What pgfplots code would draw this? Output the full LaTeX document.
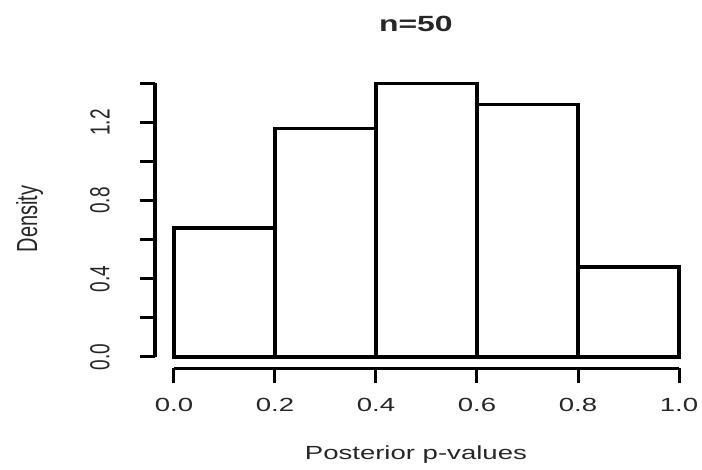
\documentclass[border=0pt]{standalone}
\usepackage{graphicx}
\usepackage{fontspec}
\setmainfont{Liberation Sans}
\usepackage{pgfplots}
\pgfplotsset{compat=1.18}

% wide glyphs for horizontal text, tall glyphs for text turned by 90 degrees
\newcommand\wide[1]{\scalebox{1.45}[1]{#1}}
\newcommand\tall[1]{\scalebox{1}[1.45]{#1}}

\begin{document}
\begin{tikzpicture}
\useasboundingbox (-174pt,-113pt) rectangle (528pt,357pt);
\begin{axis}[
  at={(0pt,0pt)}, anchor=south west,
  scale only axis, width=505pt, height=273.7pt,
  xmin=0, xmax=1, ymin=0, ymax=1.4,
  clip=false,
  axis x line*=bottom, axis y line*=left,
  axis x line shift=11.3pt, axis y line shift=19pt,
  axis line style={-, line width=3.2pt, black},
  tick align=outside,
  major tick length=15pt, minor tick length=15pt,
  every tick/.append style={line width=3pt, black},
  xtick={0,0.2,0.4,0.6,0.8,1.0},
  xticklabels={\wide{0.0},\wide{0.2},\wide{0.4},\wide{0.6},\wide{0.8},\wide{1.0}},
  ytick={0,0.4,0.8,1.2},
  minor ytick={0.2,0.6,1.0,1.4},
  yticklabels={\tall{0.0},\tall{0.4},\tall{0.8},\tall{1.2}},
  tick label style={font=\fontsize{19}{22}\selectfont, text=black!85},
  xticklabel style={anchor=center, yshift=-21.7pt},
  yticklabel style={xshift=-40pt, rotate=90, anchor=center},
  title={\wide{n=50}},
  title style={at={(rel axis cs:0.479,1.195)}, anchor=center, yshift=0pt,
    font=\fontsize{22}{26}\bfseries\selectfont, text=black!85},
  xlabel={\wide{Posterior p-values}},
  xlabel style={at={(rel axis cs:0.479,-0.358)}, anchor=center,
    font=\fontsize{19}{22}\selectfont, text=black!85},
  ylabel={\tall{Density}},
  ylabel style={at={(rel axis cs:-0.286,0.504)}, anchor=center, rotate=0,
    font=\fontsize{20}{24}\selectfont, text=black!85},
]
% density of each bin of width 0.2
\addplot[ybar interval, fill=none, draw=black, line width=3.2pt]
  coordinates {(0,0.66) (0.2,1.17) (0.4,1.40) (0.6,1.29) (0.8,0.46) (1.0,0.46)};
\end{axis}
\end{tikzpicture}
\end{document}
